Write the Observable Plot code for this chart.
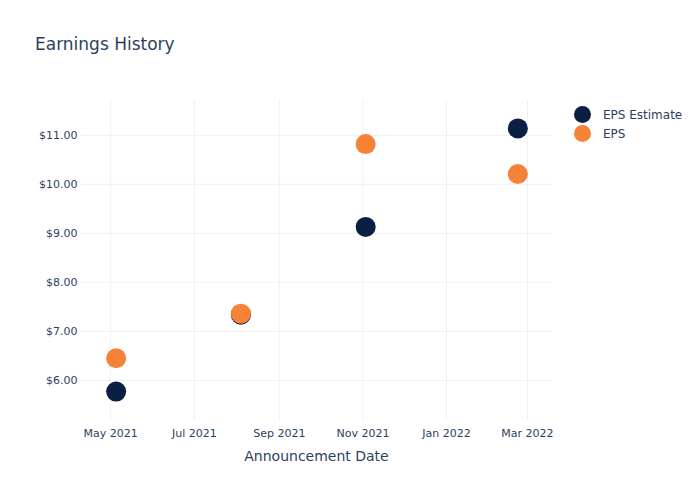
<!DOCTYPE html>
<html>
<head>
<meta charset="utf-8">
<script src="https://cdn.jsdelivr.net/npm/d3@7"></script>
<script src="https://cdn.jsdelivr.net/npm/@observablehq/plot@0.6"></script>
<style>
  html, body { margin: 0; padding: 0; background: #fff; }
  #wrap { position: relative; width: 700px; height: 500px; font-family: "DejaVu Sans", verdana, arial, sans-serif; color: #2a3f5f; }
  #title { position: absolute; left: 35px; top: 33px; font-size: 17px; line-height: 22px; }
  #xlabel { position: absolute; left: 0; width: 633px; text-align: center; top: 447px; font-size: 14px; line-height: 18px; }
  .leg { position: absolute; left: 574px; font-size: 12px; line-height: 16px; display: flex; align-items: center; }
  .leg span.dot { display: inline-block; width: 17px; height: 17px; border-radius: 50%; margin-right: 12px; }
  svg text { fill: #2a3f5f; }
</style>
</head>
<body>
<div id="wrap">
  <div id="title">Earnings History</div>
  <div id="xlabel">Announcement Date</div>
  <div class="leg" style="top:106px"><span class="dot" style="background:#0b1f42"></span>EPS Estimate</div>
  <div class="leg" style="top:125px"><span class="dot" style="background:#f58236"></span>EPS</div>
</div>
<script>
const dates = ["2021-05-05", "2021-08-04", "2021-11-03", "2022-02-22"];
const epsEstimate = [5.77, 7.34, 9.13, 11.14];
const epsActual = [6.45, 7.36, 10.82, 10.21];
const seriesNames = ["EPS Estimate", "EPS"];
const seriesColors = ["#0b1f42", "#f58236"];
const yTicks = [6, 7, 8, 9, 10, 11];
const xTicks = ["2021-05-01", "2021-07-01", "2021-09-01", "2021-11-01", "2022-01-01", "2022-03-01"];

const parse = d3.utcParse("%Y-%m-%d");
const rows = [];
dates.forEach((d, i) => rows.push({date: parse(d), value: epsEstimate[i], series: seriesNames[0]}));
dates.forEach((d, i) => rows.push({date: parse(d), value: epsActual[i], series: seriesNames[1]}));

const chart = Plot.plot({
  width: 700,
  height: 500,
  marginLeft: 80,
  marginRight: 147,
  marginTop: 100,
  marginBottom: 80,
  style: {fontFamily: '"DejaVu Sans", verdana, arial, sans-serif', fontSize: "12px", color: "#2a3f5f", background: "transparent"},
  x: {type: "utc", domain: [parse("2021-04-09"), parse("2022-03-20")]},
  y: {domain: [5.18, 11.71]},
  color: {domain: seriesNames, range: seriesColors},
  marks: [
    Plot.gridX(xTicks.map(parse), {stroke: "#ebf0f8", strokeOpacity: 1, strokeWidth: 1}),
    Plot.gridY(yTicks, {stroke: "#ebf0f8", strokeOpacity: 1, strokeWidth: 1}),
    Plot.axisX(xTicks.map(parse), {tickSize: 0, tickPadding: 9, tickFormat: d3.utcFormat("%b %Y"), label: null, fontSize: 11}),
    Plot.axisY(yTicks, {tickSize: 0, tickPadding: 3, tickFormat: d => "$" + d.toFixed(2), label: null, fontSize: 11}),
    Plot.dot(rows, {x: "date", y: "value", fill: "series", r: 10, stroke: null})
  ]
});
document.getElementById("wrap").prepend(chart);
chart.style.position = "absolute";
chart.style.left = "0";
chart.style.top = "0";
</script>
</body>
</html>
